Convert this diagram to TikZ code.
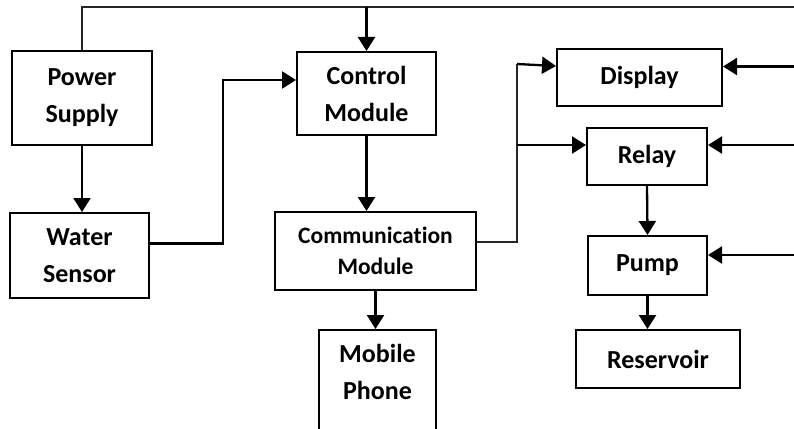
\documentclass[tikz,border=0pt]{standalone}
\usepackage{fontspec}
\setmainfont{Carlito}[Ligatures=NoCommon]
\usepackage{tikz}
\usetikzlibrary{arrows.meta,calc}
\tikzset{
  blk/.style={draw,line width=2pt,align=center,inner sep=0pt,font=\bfseries\fontsize{26}{37}\selectfont},
  arr/.style={-{Triangle[length=14pt,width=17pt]},line width=2.3pt},
  bus/.style={line width=1.5pt,black!85}
}

\begin{document}
\begin{tikzpicture}[x=1pt,y=-1pt]
\useasboundingbox (0,0) rectangle (794,428);
\clip (0,0) rectangle (794,428);
\node[blk,minimum width=140pt,minimum height=94pt] (ps) at (82,98) {Power\\Supply};
\node[blk,minimum width=139pt,minimum height=85pt] (ws) at (79.5,255.5) {Water\\Sensor};
\node[blk,minimum width=139pt,minimum height=83pt] (ctrl) at (366.5,93.5) {Control\\Module};
\node[blk,minimum width=201pt,minimum height=78pt,font=\bfseries\fontsize{23.5}{31}\selectfont] (comm) at (375.5,251) {Communication\\Module};
\node[blk,minimum width=117pt,minimum height=130pt,anchor=north] (mob) at (377.5,329) {};
\node[blk,draw=none,anchor=north] (mobtxt) at ([yshift=-14pt]mob.north) {Mobile\\Phone};
\node[blk,minimum width=165pt,minimum height=57pt] (disp) at (639.5,77.5) {Display};
\node[blk,minimum width=120pt,minimum height=57pt] (relay) at (647,156.5) {Relay};
\node[blk,minimum width=119pt,minimum height=59pt] (pump) at (647.5,265.5) {Pump};
\node[blk,minimum width=164pt,minimum height=58pt] (res) at (658,359) {Reservoir};
\coordinate (topR) at (794,7); \coordinate (edge) at (794,0);
\coordinate (wj) at (223,160); \coordinate (split) at (517,64);
\draw[bus] (ps.north) |- (topR);
\draw[arr] (ctrl.north |- topR) -- (ctrl.north);
\draw[arr] (ps.south) -- (ps.south |- ws.north);
\draw[arr] ([yshift=12pt]ws.east) -| (wj) |- ([yshift=13.5pt]ctrl.west);
\draw[arr] (ctrl.south) -- (ctrl.south |- comm.north);
\draw[arr] (comm.south) -- (comm.south |- mob.north);
\draw[bus] ([yshift=9pt]comm.east) -| (split);
\draw[arr] (split) -- ([yshift=11.5pt]disp.west);
\draw[arr] ([yshift=11.5pt]relay.west -| split) -- ([yshift=11.5pt]relay.west);
\draw[arr] ([yshift=11pt]disp.east -| edge) -- ([yshift=11pt]disp.east);
\draw[arr] ([yshift=11.5pt]relay.east -| edge) -- ([yshift=11.5pt]relay.east);
\draw[arr] ([yshift=10.5pt]pump.east -| edge) -- ([yshift=10.5pt]pump.east);
\draw[arr] (relay.south) -- (pump.north);
\draw[arr] (pump.south) -- (pump.south |- res.north);
\end{tikzpicture}
\end{document}
